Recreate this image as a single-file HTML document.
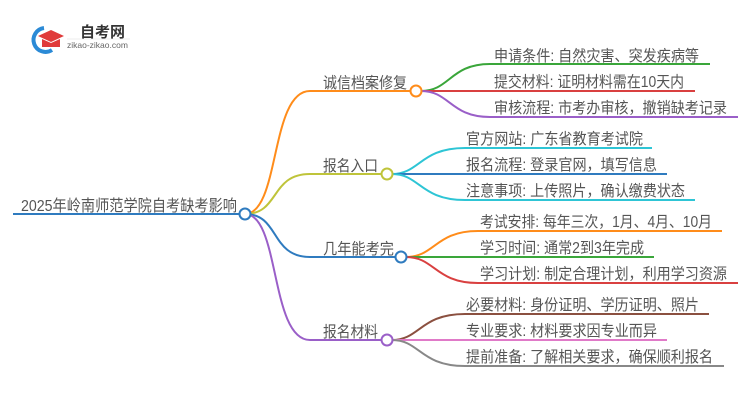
<!DOCTYPE html>
<html><head><meta charset="utf-8"><style>
body{margin:0;background:#fff;width:750px;height:410px;overflow:hidden}
text{font-family:"Liberation Sans","Noto Sans CJK SC",sans-serif;fill:#555}
</style></head><body>
<svg width="750" height="410" viewBox="0 0 750 410" xmlns="http://www.w3.org/2000/svg">
<path d="M44 28 A12 12 0 1 0 52 50" fill="none" stroke="#2b8ad6" stroke-width="4"/>
<path d="M38 36 L51 30 L64 36 L51 42 Z" fill="#e03a3a"/>
<path d="M42 39 L42 47 L60 47 L60 39 L51 43 Z" fill="#e03a3a"/>
<text x="80" y="37" font-size="15" font-weight="bold" style="fill:#333">自考网</text>
<text x="67" y="48" font-size="8.5" style="fill:#666">zikao-zikao.com</text>
<line x1="67" y1="39" x2="130" y2="39" stroke="#ddd" stroke-width="0.6"/>

<line x1="13" y1="214" x2="240" y2="214" stroke="#2f7bbf" stroke-width="2"/>
<text x="21" y="211" font-size="16" textLength="216" lengthAdjust="spacingAndGlyphs">2025年岭南师范学院自考缺考影响</text>

<g fill="none" stroke-width="2">
<path d="M245 214 C280 214 270 91 310 91 L411 91" stroke="#ff8c1a"/>
<path d="M245 214 C280 214 270 174 310 174 L382 174" stroke="#bfc43a"/>
<path d="M245 214 C280 214 270 257 310 257 L396 257" stroke="#2f7bbf"/>
<path d="M245 214 C280 214 270 340 310 340 L382 340" stroke="#9a5fc8"/>

<path d="M421 91 C450 91 450 64 490 64 L710 64" stroke="#3aa63a"/>
<path d="M421 91 L695 91" stroke="#d94040"/>
<path d="M421 91 C450 91 450 117 490 117 L738 117" stroke="#9a5fc8"/>

<path d="M392 174 C420 174 420 148 465 148 L652 148" stroke="#2ec5d5"/>
<path d="M392 174 L667 174" stroke="#2f7bbf"/>
<path d="M392 174 C420 174 420 200 465 200 L695 200" stroke="#2ec5d5"/>

<path d="M406 257 C435 257 435 231 478 231 L722 231" stroke="#ff8c1a"/>
<path d="M406 257 L654 257" stroke="#3aa63a"/>
<path d="M406 257 C435 257 435 283 478 283 L738 283" stroke="#d94040"/>

<path d="M392 340 C420 340 420 314 465 314 L709 314" stroke="#8b5040"/>
<path d="M392 340 L667 340" stroke="#e07ac8"/>
<path d="M392 340 C420 340 420 366 465 366 L724 366" stroke="#888"/>
</g>
<g fill="#fff" stroke-width="2">
<circle cx="245" cy="214" r="5.5" stroke="#2f7bbf"/>
<circle cx="416" cy="91" r="5.5" stroke="#ff8c1a"/>
<circle cx="387" cy="174" r="5.5" stroke="#bfc43a"/>
<circle cx="401" cy="257" r="5.5" stroke="#2f7bbf"/>
<circle cx="387" cy="340" r="5.5" stroke="#9a5fc8"/>
</g>
<g font-size="15.5">
<text x="323" y="88" textLength="84" lengthAdjust="spacingAndGlyphs">诚信档案修复</text>
<text x="323" y="171" textLength="55" lengthAdjust="spacingAndGlyphs">报名入口</text>
<text x="323" y="254" textLength="71" lengthAdjust="spacingAndGlyphs">几年能考完</text>
<text x="323" y="337" textLength="55" lengthAdjust="spacingAndGlyphs">报名材料</text>

<text x="494" y="61" textLength="205" lengthAdjust="spacingAndGlyphs">申请条件: 自然灾害、突发疾病等</text>
<text x="494" y="87" textLength="190" lengthAdjust="spacingAndGlyphs">提交材料: 证明材料需在10天内</text>
<text x="494" y="113" textLength="233" lengthAdjust="spacingAndGlyphs">审核流程: 市考办审核，撤销缺考记录</text>

<text x="466" y="144" textLength="177" lengthAdjust="spacingAndGlyphs">官方网站: 广东省教育考试院</text>
<text x="466" y="170" textLength="191" lengthAdjust="spacingAndGlyphs">报名流程: 登录官网，填写信息</text>
<text x="466" y="196" textLength="219" lengthAdjust="spacingAndGlyphs">注意事项: 上传照片，确认缴费状态</text>

<text x="480" y="227" textLength="232" lengthAdjust="spacingAndGlyphs">考试安排: 每年三次，1月、4月、10月</text>
<text x="480" y="253" textLength="164" lengthAdjust="spacingAndGlyphs">学习时间: 通常2到3年完成</text>
<text x="480" y="279" textLength="247" lengthAdjust="spacingAndGlyphs">学习计划: 制定合理计划，利用学习资源</text>

<text x="466" y="310" textLength="233" lengthAdjust="spacingAndGlyphs">必要材料: 身份证明、学历证明、照片</text>
<text x="466" y="336" textLength="191" lengthAdjust="spacingAndGlyphs">专业要求: 材料要求因专业而异</text>
<text x="466" y="362" textLength="247" lengthAdjust="spacingAndGlyphs">提前准备: 了解相关要求，确保顺利报名</text>
</g>
</svg>
</body></html>
